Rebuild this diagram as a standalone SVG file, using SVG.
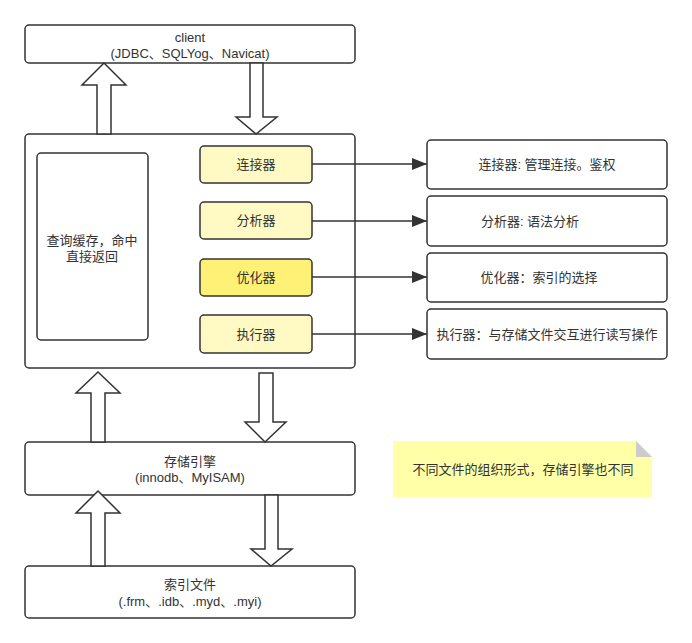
<svg xmlns="http://www.w3.org/2000/svg" width="692" height="643" viewBox="0 0 692 643">
<style>
.box{fill:#fff;stroke:#333;stroke-width:1.5}
.yb{fill:#fff9c4;stroke:#333;stroke-width:1.5}
.yo{fill:#fff176;stroke:#333;stroke-width:1.5}
.big{fill:#fff;stroke:#333;stroke-width:1.5;stroke-linejoin:miter}
.t{font-family:"Liberation Sans","Noto Sans CJK SC",sans-serif;font-size:13px;fill:#333;text-anchor:middle}
.ln{stroke:#333;stroke-width:1.5;fill:none}
</style>
<defs>
<marker id="ah" markerWidth="16" markerHeight="12" refX="15" refY="6" orient="auto" markerUnits="userSpaceOnUse">
<path d="M0,0 L15,6 L0,12 Z" fill="#333"/>
</marker>
</defs>
<rect width="692" height="643" fill="#fff"/>
<g id="client">
<rect class="box" x="25" y="25" width="330" height="38" rx="4"/>
<text class="t" x="190" y="42">client</text>
<text class="t" x="190" y="58">(JDBC、SQLYog、Navicat)</text>
</g>
<g id="server">
<rect class="box" x="25" y="134" width="330" height="234" rx="4"/>
</g>
<g id="cache">
<rect class="box" x="37" y="153" width="111" height="187" rx="4"/>
<text class="t" x="92" y="245">查询缓存，命中</text>
<text class="t" x="92" y="261">直接返回</text>
</g>
<g id="connector">
<rect class="yb" x="200" y="146" width="112" height="37" rx="4"/>
<text class="t" x="256" y="169">连接器</text>
</g>
<g id="parser">
<rect class="yb" x="200" y="202" width="112" height="37" rx="4"/>
<text class="t" x="256" y="225">分析器</text>
</g>
<g id="optimizer">
<rect class="yo" x="200" y="259" width="112" height="37" rx="4"/>
<text class="t" x="256" y="282">优化器</text>
</g>
<g id="executor">
<rect class="yb" x="200" y="315" width="112" height="38" rx="4"/>
<text class="t" x="256" y="339">执行器</text>
</g>
<g id="connector-desc">
<rect class="box" x="427" y="140" width="240" height="49" rx="4"/>
<text class="t" x="547" y="169">连接器: 管理连接。鉴权</text>
</g>
<g id="parser-desc">
<rect class="box" x="427" y="196" width="240" height="50" rx="4"/>
<text class="t" x="530" y="226">分析器: 语法分析</text>
</g>
<g id="optimizer-desc">
<rect class="box" x="427" y="253" width="240" height="49" rx="4"/>
<text class="t" x="539" y="282">优化器：索引的选择</text>
</g>
<g id="executor-desc">
<rect class="box" x="427" y="309" width="240" height="50" rx="4"/>
<text class="t" x="547" y="339">执行器：与存储文件交互进行读写操作</text>
</g>
<g id="engine">
<rect class="box" x="25" y="442" width="330" height="53" rx="4"/>
<text class="t" x="190" y="466">存储引擎</text>
<text class="t" x="190" y="482">(innodb、MyISAM)</text>
</g>
<g id="files">
<rect class="box" x="25" y="566" width="330" height="52" rx="4"/>
<text class="t" x="190" y="589">索引文件</text>
<text class="t" x="190" y="606">(.frm、.idb、.myd、.myi)</text>
</g>
<g id="note">
<path d="M393,441 H636 L652,457 V497 H393 Z" fill="#ffffa8"/>
<path d="M636,441 L652,457 H636 Z" fill="#cccccc"/>
<text class="t" x="523" y="474">不同文件的组织形式，存储引擎也不同</text>
</g>
<g id="connectors">
<path class="big" d="M97,134 V85 H82 L104,63 L126,85 H111 V134 Z"/>
<path class="big" d="M250,63 V117 H236 L256,134 L277,117 H263 V63 Z"/>
<path class="big" d="M91,442 V393 H76 L98,372 L120,393 H105 V442 Z"/>
<path class="big" d="M259,373 V422 H245 L265,442 L286,422 H273 V373 Z"/>
<path class="big" d="M91,566 V513 H76 L98,491 L120,513 H105 V566 Z"/>
<path class="big" d="M265,495 V549 H251 L271,566 L292,549 H278 V495 Z"/>
<line class="ln" x1="312" y1="164" x2="427" y2="164" marker-end="url(#ah)"/>
<line class="ln" x1="312" y1="221" x2="427" y2="221" marker-end="url(#ah)"/>
<line class="ln" x1="312" y1="277" x2="427" y2="277" marker-end="url(#ah)"/>
<line class="ln" x1="312" y1="334" x2="427" y2="334" marker-end="url(#ah)"/>
</g>
</svg>
